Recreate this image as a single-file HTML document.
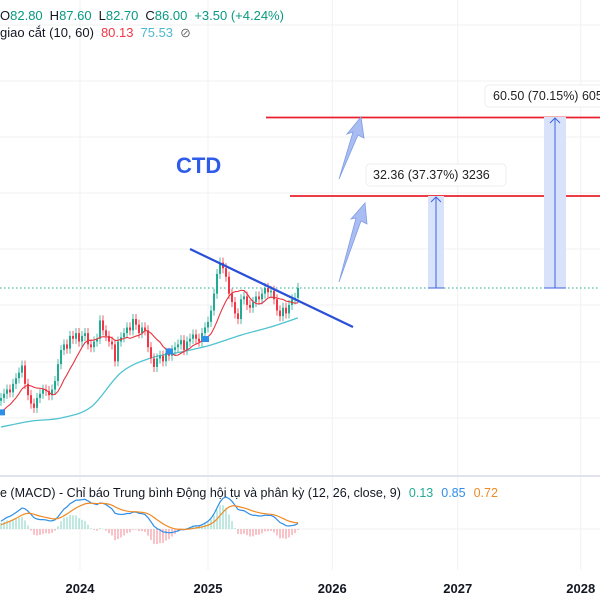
<!DOCTYPE html>
<html><head><meta charset="utf-8">
<style>
body{margin:0;background:#fff;}
svg{display:block;font-family:"Liberation Sans","Noto Sans CJK SC",sans-serif;}
</style></head>
<body>
<svg id="chart" width="600" height="600" viewBox="0 0 600 600" xmlns="http://www.w3.org/2000/svg">
<g id="grid"></g>
<g id="price"></g>
<g id="macd"></g>
<g id="annot">
  <line x1="190" y1="249" x2="353" y2="327" stroke="#2a4fd8" stroke-width="2.2"/>
  <line x1="266" y1="117.5" x2="600" y2="117.5" stroke="#e8202e" stroke-width="1.8"/>
  <line x1="290" y1="196" x2="600" y2="196" stroke="#e8202e" stroke-width="1.8"/>
  <polygon points="339,282 356,218 351,219 365,203 367,224 361,221" fill="#a9bdf2" stroke="#7f9ce6" stroke-width="0.8"/>
  <polygon points="339,179 353,132 347,134 361,117 364,138 358,135" fill="#a9bdf2" stroke="#7f9ce6" stroke-width="0.8"/>
  <g>
    <rect x="428" y="196" width="16" height="92" fill="#d8e2fb"/>
    <line x1="436" y1="197" x2="436" y2="288" stroke="#3e63dd" stroke-width="1"/>
    <polyline points="431,202 436,197 441,202" fill="none" stroke="#3e63dd"/>
    <line x1="428" y1="288" x2="444" y2="288" stroke="#3e63dd"/>
  </g>
  <g>
    <rect x="544" y="117" width="22" height="171" fill="#d8e2fb"/>
    <line x1="555" y1="118" x2="555" y2="288" stroke="#3e63dd" stroke-width="1"/>
    <polyline points="550,123 555,118 560,123" fill="none" stroke="#3e63dd"/>
    <line x1="544" y1="288" x2="566" y2="288" stroke="#3e63dd"/>
  </g>
  <g>
    <rect x="366" y="164" width="140" height="22" rx="4" fill="#fff" stroke="#eee"/>
    <text x="373" y="179" font-size="12.5" fill="#222">32.36 (37.37%) 3236</text>
  </g>
  <g>
    <rect x="485" y="85" width="130" height="22" rx="4" fill="#fff" stroke="#eee"/>
    <text x="493" y="100" font-size="12.5" fill="#222">60.50 (70.15%) 6050</text>
  </g>
  <text x="176" y="173" font-size="22" font-weight="bold" fill="#2f5bea">CTD</text>
</g>
<g font-size="13">
  <text x="0" y="20"><tspan fill="#131722">O</tspan><tspan fill="#089981">82.80</tspan><tspan fill="#131722" dx="7">H</tspan><tspan fill="#089981">87.60</tspan><tspan fill="#131722" dx="7">L</tspan><tspan fill="#089981">82.70</tspan><tspan fill="#131722" dx="7">C</tspan><tspan fill="#089981">86.00</tspan><tspan fill="#089981" dx="7">+3.50 (+4.24%)</tspan></text>
  <text x="0" y="37"><tspan fill="#131722">giao cắt (10, 60)</tspan><tspan fill="#f23645" dx="7">80.13</tspan><tspan fill="#4fb8d0" dx="7">75.53</tspan><tspan fill="#444" dx="7" font-size="11">⊘</tspan></text>
</g>
<text x="0" y="497" font-size="12.5"><tspan fill="#131722">e (MACD) - Chỉ báo Trung bình Động hội tụ và phân kỳ (12, 26, close, 9)</tspan><tspan fill="#22ab94" dx="8">0.13</tspan><tspan fill="#2f8ee8" dx="8">0.85</tspan><tspan fill="#f08a24" dx="8">0.72</tspan></text>
<g id="xaxis"></g>
</svg>
<script>
const closes=[47,48.5,50,49,52,54,56,58.5,52,48,45,43.5,47,48.5,50,49.5,48,50,53,59,64,66,64.5,69,68,70,67,69,70,66,65,67,68,74.5,71,69,67,66,60,67,68.5,70,72,71,75,73,70,72,71,65,61,58,61,62,60,63,62,64,65,66,67.5,64,67,68,69.5,68,67,70,72,74,78,84,91,95,93,90,84,81,77,75,82,83,80,79,81,83,82,84,86,84.5,85,82,78,76,79,77,80,82,82.5,86];
const preHistory=[38,37,38,39,40,41,40,42,41,42,43,44];
const firstOpen=[46];
const ma60Samples=[36.7,38.8,39.9,43.8,56,61.2,63.3,65.8,69.3,72.2,75.4];
const ma60Step=[10];
const yearLabels=['2024','2025','2026','2027','2028'];
const yearPos=[1.35,2.37,3.36,4.36,5.34];
const markerIdx=[0,56,68];

const NS='http://www.w3.org/2000/svg';
function mk(tag,attrs,parent){const e=document.createElementNS(NS,tag);for(const k in attrs)e.setAttribute(k,attrs[k]);parent.appendChild(e);return e;}
const xS=i=>1+3*i;
const yS=p=>288-(p-86)*2.82;
const yearX=t=>80+(t-1.35)*125.5;

const grid=document.getElementById('grid');
[25,81,137,193,249,305,362,418].forEach(y=>{const l=mk('line',{x1:0,x2:600,y1:y,y2:y,stroke:'#f0f1f3','stroke-width':1},grid);});
yearPos.forEach(t=>{const l=mk('line',{x1:yearX(t),x2:yearX(t),y1:0,y2:570,stroke:'#f0f1f3','stroke-width':1},grid);});
const sep=mk('line',{x1:0,x2:600,y1:476,y2:476,stroke:'#e0e3eb','stroke-width':2},grid);


const zl=mk('line',{x1:0,x2:600,y1:529,y2:529,stroke:'#f0f1f3','stroke-width':1},grid);



const price=document.getElementById('price');
const last=mk('line',{x1:0,x2:600,y1:yS(closes[closes.length-1]),y2:yS(closes[closes.length-1]),stroke:'#22ab94','stroke-width':1,'stroke-dasharray':'1.5 2.5'},price);



// MA60 smooth line (Catmull-Rom)
const P=ma60Samples.map((v,k)=>[xS(Math.min(k*ma60Step[0],closes.length-1)),yS(v)]);
let d='M'+P[0][0]+','+P[0][1];
for(let k=0;k<P.length-1;k++){
  const p0=P[Math.max(0,k-1)],p1=P[k],p2=P[k+1],p3=P[Math.min(P.length-1,k+2)];
  const c1=[p1[0]+(p2[0]-p0[0])/6,p1[1]+(p2[1]-p0[1])/6];
  const c2=[p2[0]-(p3[0]-p1[0])/6,p2[1]-(p3[1]-p1[1])/6];
  d+=' C'+c1.join(',')+' '+c2.join(',')+' '+p2.join(',');
}
const m60=mk('path',{d:d,fill:'none',stroke:'#4fc3d0','stroke-width':1.3},price);



// candles
closes.forEach((c,i)=>{
  const o=i===0?firstOpen[0]:closes[i-1];
  const up=c>=o;const col=up?'#22ab94':'#f23645';
  const g=mk('g',{},price);
  
  
  const hi=Math.max(o,c)+1.8, lo=Math.min(o,c)-1.8;
  mk('line',{x1:xS(i),x2:xS(i),y1:yS(hi),y2:yS(lo),stroke:col,'stroke-width':0.8},g);
  const top=yS(Math.max(o,c)),bot=yS(Math.min(o,c));
  mk('rect',{x:xS(i)-1,y:top,width:2,height:Math.max(1,bot-top),fill:col},g);
});

// MA10
const full=preHistory.concat(closes);
const off=preHistory.length;
let pts=[];
closes.forEach((c,i)=>{const j=i+off;const s=full.slice(j-9,j+1);const m=s.reduce((a,b)=>a+b,0)/s.length;pts.push(xS(i)+','+yS(m));});
const m10=mk('polyline',{points:pts.join(' '),fill:'none',stroke:'#e8313f','stroke-width':1.1},price);



markerIdx.forEach(i=>{
  const j=i+off;const s=full.slice(j-9,j+1);const m=s.reduce((a,b)=>a+b,0)/s.length;
  const r=mk('rect',{x:xS(i)-3,y:yS(m)-3,width:7,height:6,fill:'#2f8ee8'},price);
  
  
});

// MACD
const macdG=document.getElementById('macd');
function ema(arr,n){const k=2/(n+1);let e=arr[0];return arr.map(v=>e=v*k+e*(1-k));}
const e12=ema(full,12),e26=ema(full,26);
const macdF=full.map((_,i)=>e12[i]-e26[i]);
const sigF=ema(macdF,9);
const macd=macdF.slice(off),sig=sigF.slice(off);
const hist=macd.map((v,i)=>v-sig[i]);
const mx=Math.max(...macd.map(Math.abs));
const yM=v=>529-v*(32/mx);
const yH=v=>529-v*(55/mx);
hist.forEach((h,i)=>{const r=mk('rect',{x:xS(i)-0.5,y:Math.min(yH(h),529),width:1,height:Math.abs(yH(h)-529),fill:h>=0?'#7fd3c3':'#f08a94'},macdG);});
const ml=mk('polyline',{points:macd.map((v,i)=>xS(i)+','+yM(v)).join(' '),fill:'none',stroke:'#2f8ee8','stroke-width':1.2},macdG);


const sl=mk('polyline',{points:sig.map((v,i)=>xS(i)+','+yM(v)).join(' '),fill:'none',stroke:'#f08a24','stroke-width':1.2},macdG);



const xa=document.getElementById('xaxis');
yearLabels.forEach((t,k)=>{const e=mk('text',{x:yearX(yearPos[k]),y:593,'text-anchor':'middle','font-size':13,'font-weight':'bold',fill:'#131722'},xa);e.textContent=t;});
</script>
</body></html>
